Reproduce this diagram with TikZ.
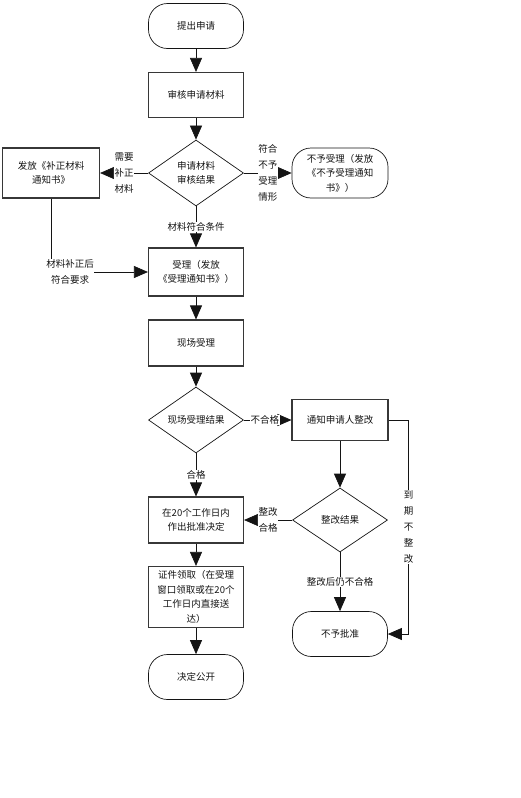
\documentclass[tikz,border=0pt]{standalone}
\usepackage{fontspec}
\setmainfont{Noto Sans CJK SC}
\usetikzlibrary{arrows.meta,shapes.geometric}
\definecolor{frame}{RGB}{55,55,55}
\definecolor{ink}{RGB}{20,20,20}
\newcommand\chartfont{\fontsize{9.5}{14.5}\selectfont}
\newcommand\tagfont{\fontsize{9.5}{16}\selectfont}
\tikzset{box/.style={draw=frame,line width=1.1pt,minimum width=95pt,minimum height=45pt,inner sep=1pt,align=center,font=\chartfont,text=ink},
  term/.style={draw=ink,line width=0.7pt,rounded corners=19pt,minimum width=95pt,minimum height=45pt,inner sep=1pt,align=center,font=\chartfont,text=ink},
  test/.style={draw=ink,line width=0.7pt,diamond,aspect=1.44,minimum width=95pt,minimum height=66pt,inner sep=0pt,align=center,font=\chartfont,text=ink},
  flow/.style={-{Triangle[length=14pt,width=12pt]},line width=0.7pt,ink},
  labeltext/.style={fill=white,inner sep=0.5pt,align=center,font=\tagfont,text=ink}}

\begin{document}
\begin{tikzpicture}[x=1pt, y=-1pt]
\useasboundingbox (0,0) rectangle (520,798);
% main column
\node[term] (start) at (196,26) {提出申请};
\node[box] (review) at (196,95) {审核申请材料};
\node[test] (check) at (196,173) {申请材料\\审核结果};
\node[box, minimum height=48pt] (accept) at (196,272) {受理（发放\\《受理通知书》）};
\node[box, minimum height=46pt] (site) at (196,343) {现场受理};
\node[test] (sitecheck) at (196,420) {现场受理结果};
\node[box, minimum height=46pt] (approve) at (196,520) {在20个工作日内\\作出批准决定};
\node[box, minimum height=61pt] (license) at (196,597) {证件领取（在受理\\窗口领取或在20个\\工作日内直接送\\达）};
\node[term] (publish) at (196,677) {决定公开};
% side branches
\node[box, minimum width=97pt, minimum height=50pt] (notify) at (51,173) {发放《补正材料\\通知书》};
\node[term, minimum width=96pt, minimum height=50pt] (refuse) at (340,173) {不予受理（发放\\《不予受理通知\\书》）};
\node[box, minimum width=96pt, minimum height=41pt] (rectify) at (340,420) {通知申请人整改};
\node[test, minimum height=64pt] (recheck) at (340,520) {整改结果};
\node[term] (deny) at (340,634) {不予批准};

\foreach \a/\b in {start/review, review/check, accept/site, site/sitecheck,
  approve/license, license/publish, rectify/recheck}
  \draw[flow] (\a) -- (\b);
\draw[flow] (check) -- node[labeltext] {需要\\补正\\材料} (notify);
\draw[flow] (check) -- node[labeltext] {符合\\不予\\受理\\情形} (refuse);
\draw[flow] (check) -- node[labeltext] {材料符合条件} (accept);
\draw[flow] (sitecheck) -- node[labeltext, pos=0.44] {不合格} (rectify);
\draw[flow] (sitecheck) -- node[labeltext] {合格} (approve);
\draw[flow] (recheck) -- node[labeltext] {整改\\合格} (approve);
\draw[flow] (recheck) -- node[labeltext] {整改后仍不合格} (deny);
\draw[flow] (notify) |- (accept);
\node[labeltext] (fixed) at (70,272) {材料补正后\\符合要求};
\draw[flow] (rectify.east) -- ++(20,0) coordinate (lapse)
  -- (lapse |- deny.east) node[labeltext, midway] {到\\期\\不\\整\\改} -- (deny.east);
\end{tikzpicture}
\end{document}
